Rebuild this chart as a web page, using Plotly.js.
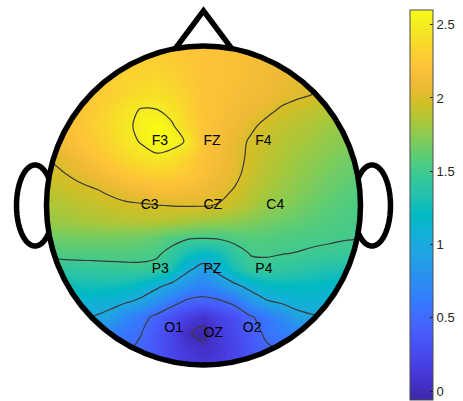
<!DOCTYPE html>
<html>
<head>
<meta charset="utf-8">
<script src="https://cdn.plot.ly/plotly-3.0.1.min.js"></script>
<style>
  html, body { margin: 0; padding: 0; background: #ffffff; }
  #topo { width: 463px; height: 401px; }
</style>
</head>
<body>
<div id="topo"></div>
<script>
// Electrode sites on a unit head (nose up, left ear at x = -1)
const electrodes = ['F3', 'FZ', 'F4', 'C3', 'CZ', 'C4', 'P3', 'PZ', 'P4', 'O1', 'OZ', 'O2'];
const electrodeX = [-0.33, 0, 0.33, -0.4, 0, 0.4, -0.33, 0, 0.33, -0.25, 0, 0.25];
const electrodeY = [0.4, 0.4, 0.4, 0, 0, 0, -0.4, -0.4, -0.4, -0.77, -0.8, -0.77];

// Scalp map sampled on a regular grid, rows listed from front (y = 1) to back (y = -1)
const gridX = [-1, -0.9, -0.8, -0.7, -0.6, -0.5, -0.4, -0.3, -0.2, -0.1, 0, 0.1, 0.2, 0.3, 0.4, 0.5, 0.6, 0.7, 0.8, 0.9, 1];
const gridY = [1, 0.9, 0.8, 0.7, 0.6, 0.5, 0.4, 0.3, 0.2, 0.1, 0, -0.1, -0.2, -0.3, -0.4, -0.5, -0.6, -0.7, -0.8, -0.9, -1];
const mapRows = [
  [2.22, 2.23, 2.24, 2.25, 2.26, 2.27, 2.27, 2.27, 2.26, 2.24, 2.22, 2.20, 2.18, 2.16, 2.14, 2.12, 2.10, 2.08, 2.06, 2.04, 2.02],
  [2.22, 2.23, 2.24, 2.25, 2.26, 2.28, 2.30, 2.30, 2.28, 2.25, 2.22, 2.20, 2.18, 2.15, 2.12, 2.10, 2.08, 2.05, 2.03, 2.01, 2.00],
  [2.22, 2.23, 2.25, 2.27, 2.30, 2.33, 2.35, 2.36, 2.33, 2.27, 2.22, 2.20, 2.18, 2.15, 2.11, 2.08, 2.05, 2.02, 2.00, 1.98, 1.96],
  [2.20, 2.22, 2.24, 2.26, 2.30, 2.35, 2.40, 2.42, 2.38, 2.30, 2.22, 2.19, 2.16, 2.13, 2.10, 2.06, 2.03, 2.00, 1.97, 1.95, 1.93],
  [2.15, 2.18, 2.22, 2.28, 2.36, 2.44, 2.51, 2.505, 2.44, 2.33, 2.22, 2.18, 2.14, 2.09, 2.04, 1.98, 1.94, 1.90, 1.87, 1.84, 1.82],
  [2.10, 2.15, 2.22, 2.30, 2.38, 2.46, 2.54, 2.60, 2.52, 2.36, 2.22, 2.16, 2.10, 2.03, 1.96, 1.92, 1.88, 1.84, 1.80, 1.77, 1.74],
  [2.10, 2.15, 2.20, 2.27, 2.35, 2.44, 2.51, 2.60, 2.56, 2.48, 2.22, 2.14, 2.06, 1.98, 1.93, 1.88, 1.84, 1.80, 1.76, 1.73, 1.70],
  [2.00, 2.05, 2.12, 2.20, 2.28, 2.36, 2.43, 2.46, 2.43, 2.33, 2.20, 2.13, 2.05, 1.97, 1.90, 1.85, 1.80, 1.76, 1.72, 1.68, 1.65],
  [1.96, 1.99, 2.04, 2.10, 2.17, 2.23, 2.28, 2.31, 2.30, 2.25, 2.18, 2.11, 2.04, 1.94, 1.87, 1.82, 1.77, 1.72, 1.68, 1.64, 1.61],
  [1.90, 1.93, 1.96, 1.99, 2.03, 2.08, 2.12, 2.15, 2.16, 2.14, 2.10, 2.05, 1.99, 1.90, 1.83, 1.78, 1.73, 1.68, 1.64, 1.60, 1.57],
  [1.84, 1.86, 1.89, 1.92, 1.95, 1.97, 1.98, 1.995, 2.005, 2.01, 2.01, 1.99, 1.92, 1.85, 1.78, 1.74, 1.69, 1.64, 1.60, 1.57, 1.54],
  [1.78, 1.80, 1.82, 1.84, 1.86, 1.87, 1.88, 1.88, 1.86, 1.83, 1.80, 1.78, 1.75, 1.72, 1.68, 1.65, 1.62, 1.59, 1.56, 1.54, 1.52],
  [1.66, 1.67, 1.68, 1.68, 1.68, 1.67, 1.66, 1.62, 1.57, 1.53, 1.52, 1.53, 1.56, 1.58, 1.57, 1.55, 1.54, 1.53, 1.52, 1.51, 1.505],
  [1.55, 1.56, 1.56, 1.56, 1.56, 1.56, 1.55, 1.53, 1.44, 1.28, 1.20, 1.27, 1.42, 1.51, 1.52, 1.505, 1.495, 1.48, 1.47, 1.46, 1.45],
  [1.38, 1.40, 1.42, 1.43, 1.44, 1.45, 1.46, 1.44, 1.30, 1.05, 0.88, 1.10, 1.30, 1.44, 1.44, 1.42, 1.39, 1.36, 1.33, 1.30, 1.27],
  [1.22, 1.25, 1.27, 1.28, 1.28, 1.25, 1.18, 1.07, 0.94, 0.78, 0.68, 0.80, 0.96, 1.10, 1.20, 1.22, 1.22, 1.20, 1.18, 1.15, 1.12],
  [1.10, 1.12, 1.12, 1.10, 1.08, 1.04, 0.95, 0.78, 0.60, 0.46, 0.43, 0.47, 0.58, 0.82, 0.98, 1.05, 1.10, 1.10, 1.08, 1.06, 1.04],
  [0.95, 0.97, 0.99, 0.99, 0.93, 0.73, 0.59, 0.44, 0.30, 0.18, 0.08, 0.20, 0.30, 0.47, 0.61, 0.74, 0.92, 0.98, 0.99, 0.98, 0.96],
  [0.86, 0.83, 0.79, 0.73, 0.65, 0.57, 0.51, 0.36, 0.22, 0.02, -0.06, 0.15, 0.25, 0.38, 0.55, 0.62, 0.68, 0.74, 0.79, 0.82, 0.85],
  [0.76, 0.73, 0.69, 0.65, 0.60, 0.54, 0.46, 0.34, 0.22, 0.12, 0.06, 0.12, 0.22, 0.34, 0.46, 0.54, 0.60, 0.65, 0.69, 0.73, 0.76],
  [0.72, 0.69, 0.66, 0.62, 0.58, 0.52, 0.44, 0.34, 0.24, 0.16, 0.12, 0.16, 0.24, 0.34, 0.44, 0.52, 0.58, 0.62, 0.66, 0.69, 0.72]
];

// Contour levels and colorbar ticks
const contourLevels = { start: 0, end: 2.5, size: 0.5 };
const colorbarTicks = [0, 0.5, 1, 1.5, 2, 2.5];
const colorbarTickText = ['0', '0.5', '1', '1.5', '2', '2.5'];

// Parula colour map
const parulaRGB = [
  [62, 38, 168], [68, 50, 203], [71, 65, 229], [72, 82, 244], [69, 99, 253], [56, 117, 254],
  [46, 135, 247], [39, 150, 235], [32, 165, 227], [18, 177, 214], [2, 186, 195], [36, 193, 174],
  [55, 200, 151], [87, 204, 122], [129, 204, 89], [171, 199, 57], [209, 191, 39], [240, 186, 54],
  [254, 195, 56], [250, 214, 45], [245, 233, 36], [249, 251, 21]
];
const parula = parulaRGB.map((c, i) => [i / (parulaRGB.length - 1), 'rgb(' + c.join(',') + ')']);

// Grid in ascending y order for Plotly
const yAsc = gridY.slice().reverse();
const zAsc = mapRows.slice().reverse();

const FONT = 'Liberation Sans, Arial, Helvetica, sans-serif';
const INK = '#000000';
const HEAD_LINE = 5.5;

// --- head outline geometry (unit circle) ---
function circlePts(n) {
  const pts = [];
  for (let i = 0; i < n; i++) {
    const t = 2 * Math.PI * i / n;
    pts.push([Math.cos(t), Math.sin(t)]);
  }
  return pts;
}
function toPath(pts, close) {
  return pts.map((p, i) => (i ? 'L' : 'M') + p[0].toFixed(4) + ',' + p[1].toFixed(4)).join('') + (close ? 'Z' : '');
}

// White surround with a circular hole so the map shows only on the scalp
const ring = circlePts(240);
const maskPath = 'M-4,-4L4,-4L4,4L-4,4Z' + toPath(ring, true);

// Ears: only the part of each ellipse lying outside the head is drawn
function earPath(cx, rx, ry, startAngle) {
  const pts = [];
  for (let i = 0; i <= 400; i++) {
    const t = startAngle + 2 * Math.PI * i / 400;
    const x = cx + rx * Math.cos(t), y = ry * Math.sin(t);
    if (x * x + y * y >= 0.995) pts.push([x, y]);
  }
  return toPath(pts, false);
}
const earCx = 1.073, earRx = 0.118, earRy = 0.254;

// Nose: two strokes from the scalp edge to the tip
const noseBase = 0.18, noseTip = 1.22;
const noseEdgeY = Math.sqrt(1 - noseBase * noseBase);
const nosePath = 'M' + (-noseBase) + ',' + noseEdgeY + 'L0,' + noseTip + 'L' + noseBase + ',' + noseEdgeY;

const traces = [
  {
    type: 'heatmap',
    x: gridX, y: yAsc, z: zAsc,
    zsmooth: 'best',
    colorscale: parula,
    hoverinfo: 'skip',
    colorbar: {
      x: 1.025, xanchor: 'left', xpad: 0,
      y: 1 - 10 / 401, yanchor: 'top', ypad: 0,
      len: 390 / 401, lenmode: 'fraction',
      thickness: 23,
      outlinewidth: 1, outlinecolor: '#4d4d4d',
      tickmode: 'array', tickvals: colorbarTicks, ticktext: colorbarTickText,
      ticks: 'inside', ticklen: 3, tickwidth: 1, tickcolor: '#262626',
      tickfont: { family: FONT, size: 13, color: '#262626' }
    }
  },
  {
    type: 'contour',
    x: gridX, y: yAsc, z: zAsc,
    autocontour: false,
    contours: { start: contourLevels.start, end: contourLevels.end, size: contourLevels.size, coloring: 'none' },
    line: { color: '#3a3a3a', width: 1.2, smoothing: 1 },
    showscale: false,
    hoverinfo: 'skip'
  },
  {
    type: 'scatter',
    mode: 'text',
    x: electrodeX, y: electrodeY, text: electrodes,
    textposition: 'middle right',
    textfont: { family: FONT, size: 14, color: INK },
    cliponaxis: false,
    hoverinfo: 'skip',
    showlegend: false
  }
];

const layout = {
  width: 463, height: 401,
  margin: { l: 0, r: 63, t: 0, b: 0, pad: 0 },
  paper_bgcolor: '#ffffff', plot_bgcolor: '#ffffff',
  showlegend: false,
  xaxis: { range: [-1.2962, 1.2516], visible: false, fixedrange: true },
  yaxis: { range: [-1.2257, 1.2884], visible: false, fixedrange: true },
  shapes: [
    { type: 'path', xref: 'x', yref: 'y', path: maskPath, fillcolor: '#ffffff', fillrule: 'evenodd',
      line: { width: 0 }, layer: 'above' },
    { type: 'circle', xref: 'x', yref: 'y', x0: -1, x1: 1, y0: -1, y1: 1,
      line: { color: INK, width: HEAD_LINE }, layer: 'above' },
    { type: 'path', xref: 'x', yref: 'y', path: nosePath,
      line: { color: INK, width: HEAD_LINE }, layer: 'above' },
    { type: 'path', xref: 'x', yref: 'y', path: earPath(-earCx, earRx, earRy, 0),
      line: { color: INK, width: HEAD_LINE }, layer: 'above' },
    { type: 'path', xref: 'x', yref: 'y', path: earPath(earCx, earRx, earRy, Math.PI),
      line: { color: INK, width: HEAD_LINE }, layer: 'above' }
  ]
};

Plotly.newPlot('topo', traces, layout, { displayModeBar: false, staticPlot: true });
</script>
</body>
</html>
